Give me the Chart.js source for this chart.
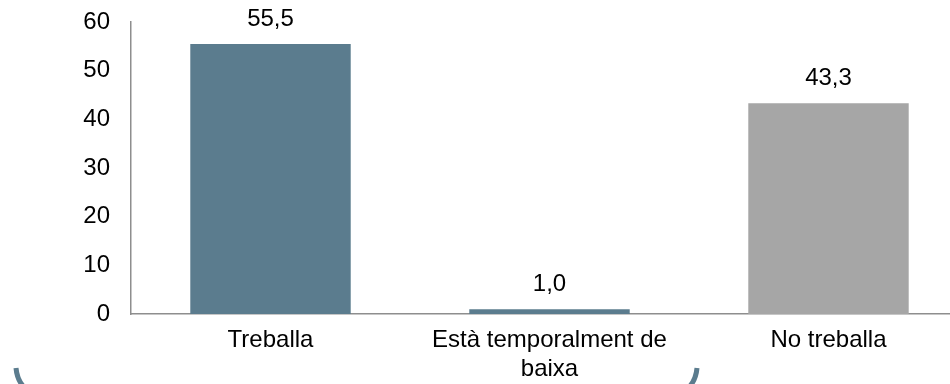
<!DOCTYPE html>
<html>
<head>
<meta charset="utf-8">
<script src="https://cdn.jsdelivr.net/npm/chart.js@4"></script>
<style>
  html, body { margin: 0; padding: 0; background: #fff; overflow: hidden; }
  #wrap { position: relative; width: 968px; height: 384px; }
</style>
</head>
<body>
<div id="wrap"><canvas id="chart"></canvas></div>
<script>
const categories = ['Treballa', ['Està temporalment de', 'baixa'], 'No treballa'];
const values = [55.5, 1.0, 43.3];
const barColors = ['#5B7C8E', '#5B7C8E', '#A6A6A6'];
const yTicks = [0, 10, 20, 30, 40, 50, 60];

const FONT = "'Liberation Sans', Arial, sans-serif";
const FSIZE = 24;

// value labels above each bar, with decimal comma
const valueLabels = {
  id: 'valueLabels',
  afterDatasetsDraw(chart) {
    const ctx = chart.ctx;
    const meta = chart.getDatasetMeta(0);
    ctx.save();
    ctx.font = FSIZE + 'px ' + FONT;
    ctx.fillStyle = '#000';
    ctx.textAlign = 'center';
    ctx.textBaseline = 'bottom';
    meta.data.forEach((bar, i) => {
      const txt = values[i].toFixed(1).replace('.', ',');
      ctx.fillText(txt, bar.x, bar.y - 13);
    });
    ctx.restore();
  }
};

// slide frame fragments at the bottom edge
const frameBits = {
  id: 'frameBits',
  afterDraw(chart) {
    const ctx = chart.ctx;
    ctx.save();
    ctx.strokeStyle = '#5B7C8E';
    ctx.lineWidth = 5;
    ctx.beginPath();
    ctx.moveTo(16, 368);
    ctx.quadraticCurveTo(17, 379, 23, 386);
    ctx.stroke();
    ctx.beginPath();
    ctx.moveTo(697, 368);
    ctx.quadraticCurveTo(696, 379, 690, 386);
    ctx.stroke();
    ctx.restore();
  }
};

new Chart(document.getElementById('chart'), {
  type: 'bar',
  data: {
    labels: categories,
    datasets: [{
      data: values,
      backgroundColor: barColors,
      borderWidth: 0,
      categoryPercentage: 1,
      barPercentage: 0.575
    }]
  },
  options: {
    responsive: true,
    maintainAspectRatio: false,
    animation: false,
    layout: { padding: { top: 22, left: 0, right: 0, bottom: 0 } },
    plugins: { legend: { display: false }, tooltip: { enabled: false } },
    scales: {
      x: {
        grid: { display: false, drawTicks: false },
        border: { display: true, color: '#8E8E8E', width: 1.5 },
        ticks: { color: '#000', font: { family: FONT, size: FSIZE, lineHeight: 1.2 }, padding: 12, maxRotation: 0, autoSkip: false },
        afterFit(scale) { scale.height = 70; }
      },
      y: {
        min: 0,
        max: 60,
        afterBuildTicks(scale) { scale.ticks = yTicks.map(v => ({ value: v })); },
        grid: { display: false, drawTicks: false },
        border: { display: true, color: '#8E8E8E', width: 1.5 },
        ticks: { color: '#000', font: { family: FONT, size: FSIZE }, padding: 21 },
        afterFit(scale) { scale.width = 131; scale.paddingTop = 0; }
      }
    }
  },
  plugins: [valueLabels, frameBits]
});
</script>
</body>
</html>
